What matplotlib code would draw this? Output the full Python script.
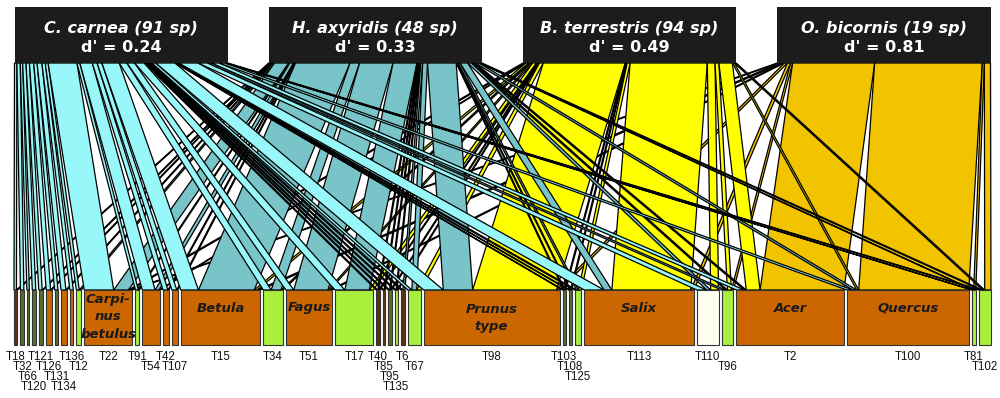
import numpy as np
import matplotlib.pyplot as plt
from matplotlib.patches import Polygon, Rectangle

plt.rcParams['font.family'] = ['Liberation Sans', 'DejaVu Sans']

# Visitor species (top level)
species = ['C. carnea', 'H. axyridis', 'B. terrestris', 'O. bicornis']
n_sp = [91, 48, 94, 19]
d_prime = [0.24, 0.33, 0.49, 0.81]
species_colors = ['#98F7F9', '#78C4C8', '#FFFF00', '#F2C400']

# Pollen types (bottom level)
pollen = ['T18', 'T32', 'T66', 'T120', 'T121', 'T126', 'T131', 'T134', 'T136', 'T12',
          'T22', 'T91', 'T54', 'T42', 'T107', 'T15', 'T34', 'T51', 'T17',
          'T40', 'T85', 'T95', 'T135', 'T6', 'T67', 'T98', 'T103', 'T108', 'T125',
          'T113', 'T110', 'T96', 'T2', 'T100', 'T81', 'T102']
pollen_names = {'T22': 'Carpi-\nnus\nbetulus', 'T15': 'Betula', 'T51': 'Fagus',
                'T98': 'Prunus\ntype', 'T113': 'Salix', 'T2': 'Acer', 'T100': 'Quercus'}

BR, OL, OR, LI, IV = '#5C3310', '#55702F', '#CC6600', '#A8F03C', '#FFFFF0'
pollen_colors = [BR, OL, OL, OL, OL, OR, OL, OR, OR, LI,
                 OR, LI, OR, OR, OR, OR, LI, OR, LI,
                 BR, BR, OL, LI, BR, LI, OR, OL, OL, LI,
                 OR, IV, LI, OR, OR, LI, LI]

# pollen load per species (relative amounts, same order as pollen)
c_carnea = [2.5, 3.5, 2.5, 3.5, 3.5, 4.5, 3.5, 5, 3.5, 3,
            30, 3, 13, 5, 5, 18, 8, 8, 10,
            1.5, 1.5, 1.5, 1.5, 2, 4, 20, 1, 1, 2,
            20, 10, 4, 8, 6, 1, 2]
h_axyridis = [1, 0, 0, 0, 1, 1, 0, 1, 0, 2,
              15, 1, 4, 1, 1, 57, 10, 35, 25,
              1, 1, 1, 1, 2, 5, 30, 1, 1, 2,
              8, 4, 2, 2, 4, 1, 2]
b_terrestris = [0, 0, 0, 0, 0, 0, 0, 0, 0, 0,
                2, 0, 1, 0, 0, 3, 2, 2, 4,
                1, 0, 1, 1, 0, 4, 85, 1, 1, 3,
                80, 8, 4, 14, 2, 0, 2]
o_bicornis = [0, 0, 0, 0, 0, 0, 0, 0, 0, 0,
              2, 0, 0, 0, 0, 3, 0, 2, 0,
              0, 0, 0, 0, 0, 0, 3, 0, 0, 0,
              3, 0, 2, 80, 105, 2, 6]

# label row under each pollen box
label_rows = [0, 1, 2, 3, 0, 1, 2, 3, 0, 1,
              0, 0, 1, 0, 1, 0, 0, 0, 0,
              0, 1, 2, 3, 0, 1, 0, 0, 1, 2,
              0, 0, 1, 0, 0, 0, 1]

web = np.array([c_carnea, h_axyridis, b_terrestris, o_bicornis], dtype=float)
web = web / web.sum(axis=1, keepdims=True)

fig = plt.figure(figsize=(10, 3.98), dpi=100)
ax = fig.add_axes([0, 0, 1, 1])
ax.set_xlim(0, 1000)
ax.set_ylim(398, 0)
ax.axis('off')

# geometry
top_left, top_right, top_gap = 14.5, 990.5, 41
top_w = (top_right - top_left - 3 * top_gap) / 4
top_x0 = top_left + np.arange(4) * (top_w + top_gap)
y_top, y_low, box_h = 63, 290, 55

col_tot = web.sum(axis=0)
low_left, low_right, low_gap = 14, 991, 3
scale = (low_right - low_left - low_gap * (len(pollen) - 1)) / col_tot.sum()
low_w = col_tot * scale
low_x0 = low_left + np.concatenate([[0], np.cumsum(low_w[:-1] + low_gap)])

top_off = np.cumsum(web, axis=1) - web
low_off = np.cumsum(web, axis=0) - web

# links
for j in range(len(pollen)):
    for i in range(len(species)):
        v = web[i, j]
        if v == 0:
            continue
        xt0 = top_x0[i] + top_off[i, j] * top_w
        xt1 = xt0 + v * top_w
        xb0 = low_x0[j] + low_off[i, j] * scale
        xb1 = xb0 + v * scale
        ax.add_patch(Polygon([(xt0, y_top), (xt1, y_top), (xb1, y_low), (xb0, y_low)],
                             closed=True, fc=species_colors[i], ec='black', lw=0.9))

# pollen boxes and labels
for j, name in enumerate(pollen):
    ax.add_patch(Rectangle((low_x0[j], y_low), low_w[j], box_h,
                           fc=pollen_colors[j], ec='#333333', lw=0.8, zorder=3))
    cx = low_x0[j] + low_w[j] / 2
    ax.text(cx, 357 + 10 * label_rows[j], name, ha='center', va='center',
            fontsize=8.3, color='#111111')
    if name in pollen_names:
        label = pollen_names[name]
        ty = 317 if label.count('\n') == 2 else (318 if '\n' in label else 308)
        ax.text(cx, ty, label, ha='center', va='center', fontsize=9.5,
                style='italic', weight='bold', color='#1a1a1a',
                family='DejaVu Sans', linespacing=1.45, zorder=4)

# species boxes
for i, sp in enumerate(species):
    ax.add_patch(Rectangle((top_x0[i], 7), top_w, 56, fc='#1c1c1c', ec='none', zorder=5))
    cx = top_x0[i] + top_w / 2
    ax.text(cx, 29, f'{sp} ({n_sp[i]} sp)', ha='center', va='center',
            fontsize=11.5, style='italic', weight='bold', color='white',
            family='DejaVu Sans', zorder=6)
    ax.text(cx, 47, f"d' = {d_prime[i]:.2f}", ha='center', va='center',
            fontsize=11.5, weight='bold', color='white',
            family='DejaVu Sans', zorder=6)

fig.savefig('out.png', dpi=100)
